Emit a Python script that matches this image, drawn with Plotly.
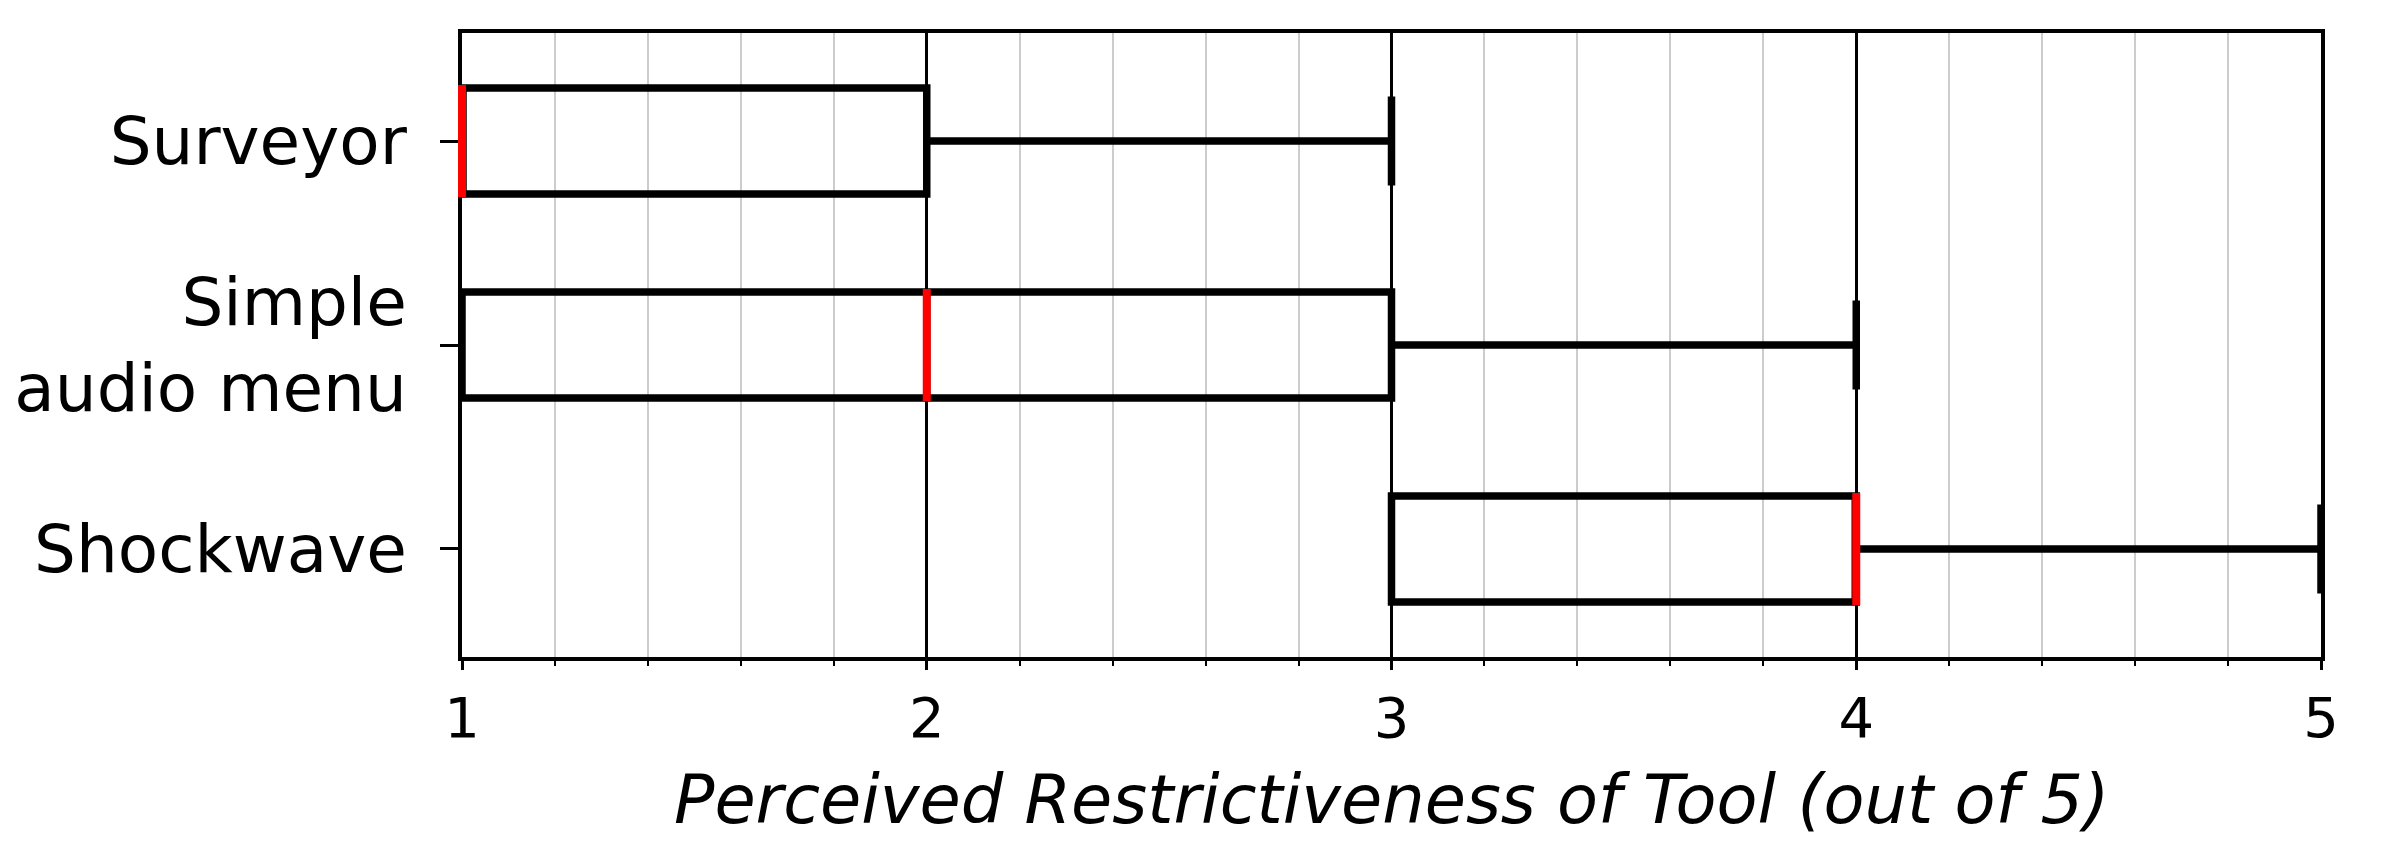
import plotly.graph_objects as go

# herramientas y estadisticos del boxplot (escala 1-5)
herramientas = ["Surveyor", "Simple<br>audio menu", "Shockwave"]
posiciones = [1, 2, 3]
q1 = [1, 1, 3]
mediana = [1, 2, 4]
q3 = [2, 3, 4]
minimo = [1, 1, 3]
maximo = [3, 4, 5]

ancho = 0.52

fig = go.Figure()

fig.add_trace(go.Box(
    y=posiciones,
    q1=q1,
    median=mediana,
    q3=q3,
    lowerfence=minimo,
    upperfence=maximo,
    orientation="h",
    width=ancho,
    whiskerwidth=0.84,
    fillcolor="rgba(255,255,255,0)",
    line=dict(color="black", width=7.5),
    boxpoints=False,
    hoverinfo="skip",
    showlegend=False,
))

# lineas de mediana en rojo (marcador vertical, sin recorte en el borde)
fig.add_trace(go.Scatter(
    x=mediana, y=posiciones, mode="markers",
    marker=dict(symbol="line-ns", size=80,
                line=dict(color="red", width=8)),
    cliponaxis=False,
    hoverinfo="skip", showlegend=False,
))

# el body de la pagina tiene 8px de margen
fig.update_layout(
    width=2393, height=855,
    margin=dict(l=454, r=80, t=25, b=206),
    plot_bgcolor="white",
    paper_bgcolor="white",
    font=dict(family="DejaVu Sans", color="black"),
    annotations=[dict(
        text="<i>Perceived Restrictiveness of Tool (out of 5)</i>",
        xref="paper", yref="paper", x=0.5, y=-0.229,
        xanchor="center", yanchor="middle", showarrow=False,
        font=dict(size=67),
    )],
)

fig.update_xaxes(
    range=[1, 5],
    tickvals=[1, 2, 3, 4, 5],
    tickfont=dict(size=56),
    automargin=False,
    layer="below traces",
    showgrid=True, gridcolor="black", gridwidth=2.5,
    showline=True, linecolor="black", linewidth=4, mirror=True,
    ticks="outside", ticklen=9, tickwidth=3, tickcolor="black",
    minor=dict(dtick=0.2, showgrid=True, gridcolor="#cccccc", gridwidth=1.5,
               ticks="outside", ticklen=5, tickwidth=2, tickcolor="black"),
    zeroline=False,
)

fig.update_yaxes(
    range=[3.53, 0.47],
    tickvals=posiciones,
    ticktext=herramientas,
    tickfont=dict(size=66),
    ticklabelstandoff=20,
    automargin=False,
    layer="below traces",
    showgrid=False,
    showline=True, linecolor="black", linewidth=4, mirror=True,
    ticks="outside", ticklen=18, tickwidth=3, tickcolor="black",
    zeroline=False,
)

fig.write_html("out.html")
